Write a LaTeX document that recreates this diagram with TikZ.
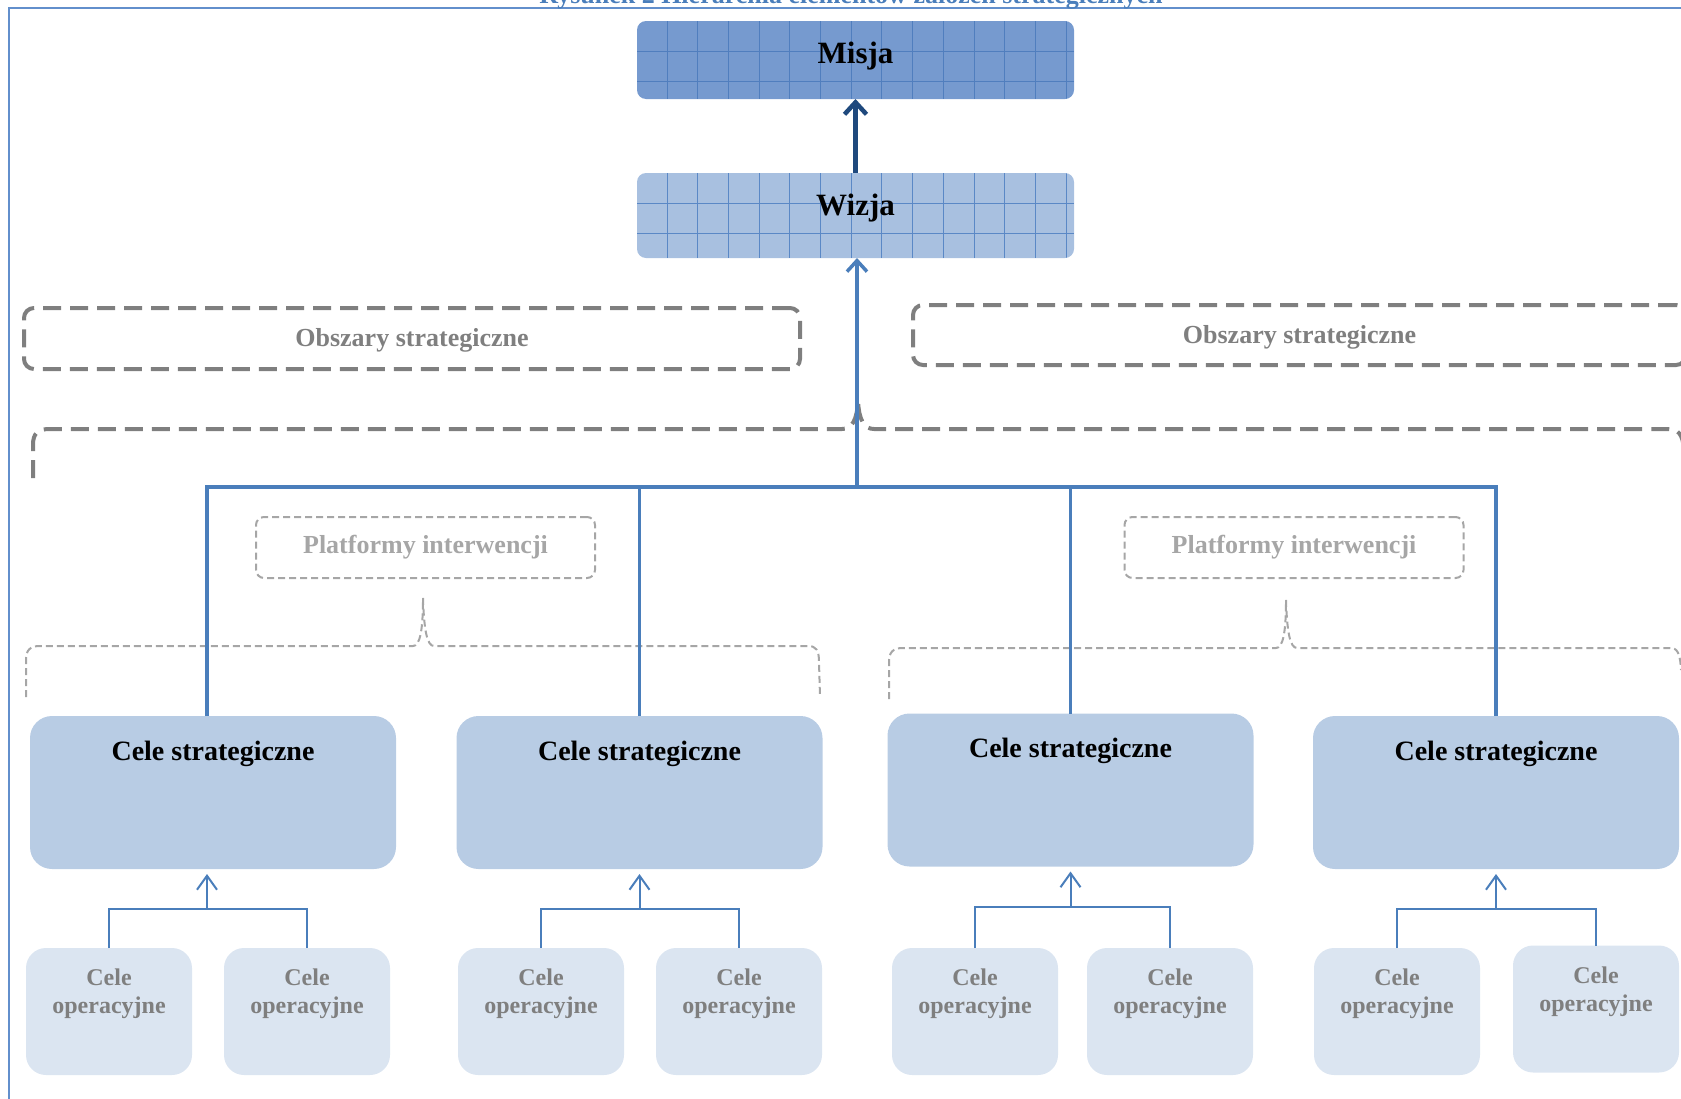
\documentclass[tikz,border=0pt]{standalone}
\usepackage{fontspec}
\setmainfont{Liberation Serif}
\usetikzlibrary{positioning,arrows.meta}

\definecolor{frameblue}{RGB}{98,143,204}
\definecolor{misjafill}{RGB}{118,154,207}
\definecolor{misjagrid}{RGB}{80,126,190}
\definecolor{wizjafill}{RGB}{168,192,224}
\definecolor{wizjagrid}{RGB}{90,136,198}
\definecolor{linkblue}{RGB}{74,126,187}
\definecolor{navyblue}{RGB}{31,73,125}
\definecolor{stratfill}{RGB}{184,204,228}
\definecolor{operfill}{RGB}{219,229,241}
\definecolor{areagray}{RGB}{127,127,127}
\definecolor{platgray}{RGB}{166,166,166}

\tikzset{
  gridfill/.style={path picture={
      \foreach \k in {0,...,13}
        \draw[#1, line width=1pt]
          ([xshift=30pt+\k*30.7pt]path picture bounding box.north west) --
          ([xshift=30pt+\k*30.7pt]path picture bounding box.south west);
      \foreach \k in {0,1}
        \draw[#1, line width=1pt]
          ([yshift=-30pt-\k*30.7pt]path picture bounding box.north west) --
          ([yshift=-30pt-\k*30.7pt]path picture bounding box.north east);
  }},
  topbox/.style={rectangle, rounded corners=9pt, inner sep=0pt, outer sep=0pt,
    minimum width=437pt, text height=22pt, font=\fontsize{31}{36}\selectfont\bfseries},
  areabox/.style={rectangle, rounded corners=10pt, draw=areagray, line width=4pt,
    dash pattern=on 18pt off 9pt, inner sep=0pt, minimum height=61pt,
    text height=18pt, text depth=2pt,
    text=areagray, font=\fontsize{26}{30}\selectfont\bfseries},
  platbox/.style={rectangle, rounded corners=8pt, draw=platgray, line width=2pt,
    dash pattern=on 7pt off 4pt, inner sep=0pt, minimum width=339pt, minimum height=61pt,
    text=platgray, font=\fontsize{26}{30}\selectfont\bfseries},
  stratbox/.style={rectangle, rounded corners=22pt, fill=stratfill, inner sep=0pt, outer sep=0pt,
    minimum width=366pt, minimum height=153pt, text height=20pt, text depth=85pt,
    font=\fontsize{28}{32}\selectfont\bfseries},
  operbox/.style={rectangle, rounded corners=20pt, fill=operfill, inner sep=0pt, outer sep=0pt,
    minimum width=166pt, minimum height=127pt, align=center, text=areagray,
    font=\fontsize{24}{28}\selectfont\bfseries},
  areadash/.style={draw=areagray, line width=4pt, dash pattern=on 18pt off 9pt},
  platdash/.style={draw=platgray, line width=2pt, dash pattern=on 7pt off 4pt},
  busline/.style={draw=linkblue, line width=3.5pt},
  busarrow/.style={busline, -{Straight Barb[length=11pt, width=20pt]}},
  opline/.style={draw=linkblue, line width=2pt},
  oparrow/.style={opline, -{Straight Barb[length=14pt, width=20pt]}, shorten >=5pt},
  toparrow/.style={draw=navyblue, line width=4.5pt, -{Straight Barb[length=12pt, width=22pt]}}
}

\begin{document}
\begin{tikzpicture}[x=1pt, y=-1pt]
  \useasboundingbox (0,0) rectangle (1681,1098);

  % frame and caption
  \draw[frameblue, line width=2.5pt] (9,1110) -- (9,8) -- (1700,8);
  \node[anchor=base, text=linkblue, font=\fontsize{26}{30}\selectfont\bfseries] (caption)
    at (851,3) {Rysunek 2 Hierarchia elementów założeń strategicznych};

  % braces
  \draw[areadash] (33,478) -- (33,445) .. controls (33,433) and (38,429) .. (50,429)
    -- (842,429) .. controls (852,429) and (857,420) .. (858,401)
    .. controls (859,420) and (864,429) .. (874,429) -- (1668,429)
    .. controls (1678,429) and (1683,434) .. (1684,450);
  \draw[platdash] (26,697) -- (26,660) .. controls (26,650) and (30,646) .. (40,646)
    -- (413,646) .. controls (420,646) and (423,630) .. (423,598)
    .. controls (424,630) and (427,646) .. (434,646) -- (808,646)
    .. controls (816,646) and (819,650) .. (819,662) -- (820,697);
  \draw[platdash] (889,699) -- (889,662) .. controls (889,652) and (893,648) .. (903,648)
    -- (1276,648) .. controls (1283,648) and (1286,632) .. (1286,600)
    .. controls (1287,632) and (1290,648) .. (1297,648) -- (1670,648)
    .. controls (1677,648) and (1680,652) .. (1681,670);

  % mission and vision
  \node[topbox, fill=misjafill, gridfill=misjagrid, minimum height=78pt, text depth=16pt]
    (misja) at (855.5,60) {Misja};
  \node[topbox, fill=wizjafill, gridfill=wizjagrid, minimum height=85pt, text depth=23pt,
    below=74pt of misja] (wizja) {Wizja};

  % areas and platforms
  \node[areabox, minimum width=776pt] (area1) at (412,338.5) {Obszary strategiczne};
  \node[areabox, minimum width=773pt, minimum height=60pt] (area2) at (1299.5,335) {Obszary strategiczne};
  \node[platbox] (plat1) at (425.5,547.5) {Platformy interwencji};
  \node[platbox] (plat2) at (1294,547.5) {Platformy interwencji};

  % goals
  \foreach \n/\x/\y in {1/213/792.5, 2/639.5/792.5, 3/1070.5/790, 4/1496/792.5}
    \node[stratbox] (s\n) at (\x,\y) {Cele strategiczne};
  \foreach \n/\x/\y in {1/109/1011.5, 2/307/1011.5, 3/541/1011.5, 4/739/1011.5,
                        5/975/1011.5, 6/1170/1011.5, 7/1397/1011.5, 8/1596/1009}
    \node[operbox] (o\n) at (\x,\y) {Cele\\operacyjne\\[12pt]\mbox{}};

  % links
  \draw[toparrow] (wizja.north) -- (misja.south);
  \coordinate (bus) at ([xshift=1.5pt]wizja.south |- 0,487);
  \draw[busline] ([xshift=-6pt]s1.north) |- (s4.north |- bus) -- (s4.north);
  \draw[busline] (s2.north) -- (s2.north |- bus);
  \draw[busline] (s3.north) -- (s3.north |- bus);
  \draw[busarrow] (bus) -- (bus |- wizja.south);
  \foreach \s/\a/\b/\y/\dx in {1/1/2/909/-6, 2/3/4/909/0, 3/5/6/907/0, 4/7/8/909/0} {
    \coordinate (j\s) at ([xshift=\dx pt]s\s.south |- 0,\y);
    \draw[opline] (o\a.north) |- (j\s) -| (o\b.north);
    \draw[oparrow] (j\s) -- (j\s |- s\s.south);
  }
\end{tikzpicture}
\end{document}
